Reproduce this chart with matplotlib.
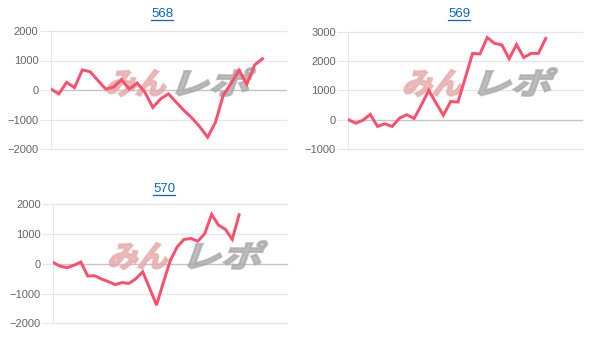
import numpy as np
import matplotlib
matplotlib.use("Agg")
import matplotlib.pyplot as plt
from matplotlib.lines import Line2D
from matplotlib.textpath import TextPath
from matplotlib.patches import PathPatch
from matplotlib.transforms import Affine2D
from matplotlib.font_manager import FontProperties

# values
titles = ["568", "569", "570"]
vals_568 = [30, -130, 260, 80, 680, 620, 320, 30, 100, 350, 30, 240, -80, -590,
            -300, -130, -420, -700, -950, -1250, -1600, -1090, -170, 225, 670, 200, 850, 1060]
vals_569 = [0, -120, -20, 180, -230, -140, -230, 50, 170, 40, 500, 1000, 570, 150,
            620, 600, 1430, 2260, 2240, 2800, 2600, 2550, 2080, 2560, 2120, 2260, 2260, 2770]
vals_570 = [40, -80, -130, -50, 60, -410, -400, -510, -600, -700, -630, -660, -500, -270,
            -820, -1390, -620, 110, 570, 820, 850, 760, 1010, 1660, 1300, 1160, 820, 1650]
y_ranges = [(-2000, 2000), (-1000, 3000), (-2000, 2000)]
x_spans = [30, 32, 34]

W, H, DPI = 608, 346, 100
fig = plt.figure(figsize=(W / DPI, H / DPI), dpi=DPI)
px = Affine2D().scale(1 / DPI) + fig.dpi_scale_trans  # pixel coords, origin bottom-left

# (left, top, right, bottom) in pixels from top-left
boxes = [(51, 31, 286, 149), (348.3, 31.7, 582.3, 149), (53.3, 204.3, 287.3, 323.3)]
marks = [(105, 168, 94), (401.7, 470, 94), (107, 180, 267)]
title_pos = [(162, 14), (459, 14), (164, 189)]

LINE = "#ff4d6b"
GRID = "#e6e6e6"
wm_font = FontProperties(family="Noto Sans CJK JP", weight="bold")

for i, vals in enumerate([vals_568, vals_569, vals_570]):
    l, t, r, b = boxes[i]
    ax = fig.add_axes([l / W, (H - b) / H, (r - l) / W, (b - t) / H])
    ax.set_facecolor("none")
    x = np.arange(len(vals))
    ax.plot(x, vals, color=LINE, lw=2.1, zorder=3, solid_joinstyle="miter")
    lo, hi = y_ranges[i]
    ax.set_yticks(np.arange(lo, hi + 1, 1000))
    ax.set_xticks([])
    for v in np.arange(lo, hi + 1, 1000):
        ax.axhline(v, color="#c4c4c4" if v == 0 else GRID, lw=1, zorder=1, clip_on=False)
    for s in ["top", "right", "bottom"]:
        ax.spines[s].set_visible(False)
    ax.spines["left"].set_color(GRID)
    ax.tick_params(axis="y", length=8, color=GRID, pad=1, labelsize=8, labelcolor="#666666")
    for lab in ax.get_yticklabels():
        lab.set_family("Liberation Sans")

    # watermark
    pk, gx, base = marks[i]
    p1 = TextPath((0, 0), "みん", size=30, prop=wm_font)
    p2 = TextPath((0, 0), "レポ", size=30, prop=wm_font)
    t1 = Affine2D().skew_deg(15, 0).translate(pk, H - base) + px
    t2 = Affine2D().skew_deg(15, 0).scale(1.35, 1).translate(gx, H - base) + px
    ax.add_patch(PathPatch(p1, transform=t1, facecolor="#e6a9a9", edgecolor="#e6a9a9",
                           lw=1.6, alpha=0.75, zorder=2, clip_on=False))
    ax.add_patch(PathPatch(p2, transform=t2, facecolor="#a8a8a8", edgecolor="#a8a8a8",
                           lw=1.6, alpha=0.75, zorder=2, clip_on=False))
    ax.set_ylim(lo, hi)
    ax.set_xlim(0, x_spans[i])

    # underlined blue title
    tx, ty = title_pos[i]
    fig.text(tx / W, (H - ty) / H, titles[i], ha="center", va="center",
             fontsize=9.5, color="#0a66c2", family="Liberation Sans")
    fig.add_artist(Line2D([(tx - 11) / W, (tx + 11) / W], [(H - ty - 6) / H] * 2,
                          color="#0a66c2", lw=0.9))

fig.savefig("out.png", dpi=DPI)
